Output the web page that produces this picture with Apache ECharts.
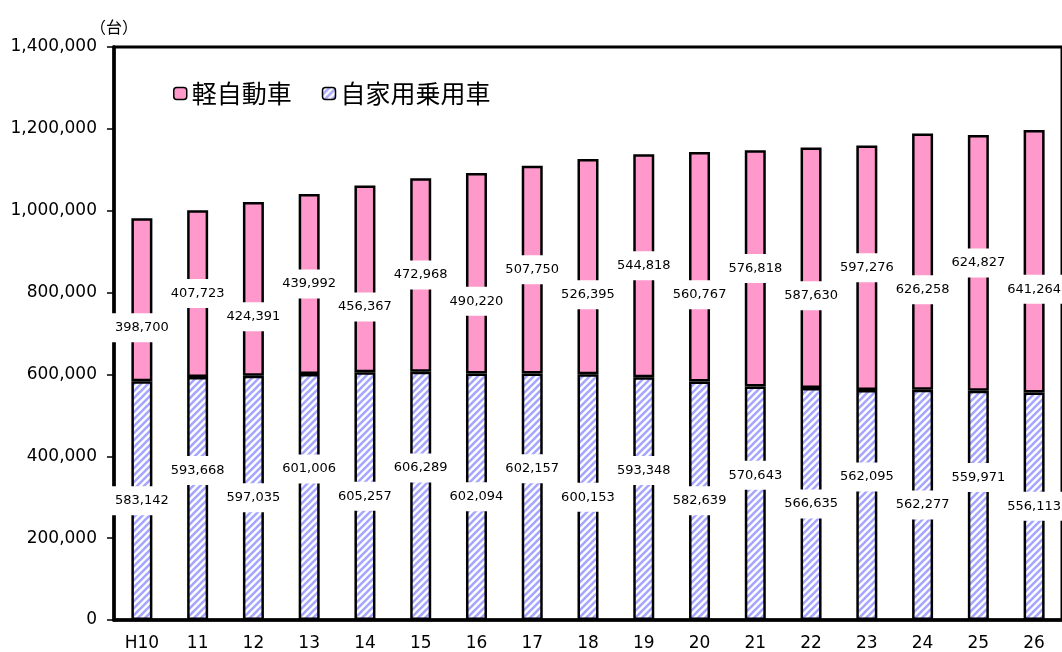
<!DOCTYPE html>
<html>
<head>
<meta charset="utf-8">
<script src="https://cdn.jsdelivr.net/npm/echarts@6/dist/echarts.min.js"></script>
<style>
html,body{margin:0;padding:0;background:#fff;}
#c{width:1062px;height:652px;}
</style>
</head>
<body>
<div id="c"></div>
<script>
var categories = ['H10','11','12','13','14','15','16','17','18','19','20','21','22','23','24','25','26'];
var keiValues = [398700,407723,424391,439992,456367,472968,490220,507750,526395,544818,560767,576818,587630,597276,626258,624827,641264];
var jikayoValues = [583142,593668,597035,601006,605257,606289,602094,602157,600153,593348,582639,570643,566635,562095,562277,559971,556113];
var seriesNames = ['軽自動車','自家用乗用車'];
var yTicks = [0,200000,400000,600000,800000,1000000,1200000,1400000];

function fmt(v){ return String(v).replace(/\B(?=(\d{3})+(?!\d))/g, ','); }

// hatch pattern
var T = 7;
var tile = document.createElement('canvas');
tile.width = T; tile.height = T;
var g = tile.getContext('2d');
g.fillStyle = '#ffffff';
g.fillRect(0,0,T,T);
g.strokeStyle = '#a6a6ff';
g.lineWidth = 2.6;
g.beginPath();
for (var k = -T; k <= T; k += T) {
  g.moveTo(k - 1, T + 1); g.lineTo(k + T + 1, -1);
}
g.stroke();
var hatch = {image: tile, repeat: 'repeat'};

var labelBase = {
  show: true,
  position: 'inside',
  color: '#000',
  fontSize: 13,
  fontFamily: 'DejaVu Sans, sans-serif',
  backgroundColor: '#fff',
  padding: [8, 7],
  formatter: function(p){ return fmt(p.value); }
};

var jikayoData = jikayoValues.map(function(v,i){
  return {value: v, label: {offset: [0, i % 2 === 1 ? -28 : 0]}};
});
var keiData = keiValues.map(function(v,i){
  return {value: v, label: {offset: [0, i % 2 === 0 ? 28 : 0]}};
});

var chart = echarts.init(document.getElementById('c'), null, {renderer: 'canvas'});
chart.setOption({
  animation: false,
  backgroundColor: '#fff',
  textStyle: {fontFamily: 'DejaVu Sans, sans-serif'},
  legend: {
    left: 168, top: 76,
    itemWidth: 13, itemHeight: 12,
    itemGap: 30,
    data: seriesNames,
    textStyle: {fontSize: 25, color: '#000', fontFamily: 'Noto Sans CJK JP'},
    itemStyle: {borderColor: '#000', borderWidth: 1.5}
  },
  grid: {
    left: 114, top: 47, width: 959, bottom: 30,
    show: true, borderColor: '#000', borderWidth: 3, backgroundColor: 'transparent',
    containLabel: false
  },
  xAxis: {
    type: 'category',
    data: categories,
    axisLine: {lineStyle: {color: '#000', width: 3.5}},
    axisTick: {show: false},
    axisLabel: {color: '#000', fontSize: 17, margin: 15, fontFamily: 'DejaVu Sans, sans-serif'}
  },
  yAxis: {
    type: 'value',
    min: yTicks[0], max: yTicks[yTicks.length-1], interval: yTicks[1]-yTicks[0],
    name: '（台）',
    nameLocation: 'end',
    nameGap: 12,
    nameTextStyle: {color: '#000', fontSize: 16, fontFamily: 'Noto Sans CJK JP', align: 'center'},
    axisLine: {show: true, lineStyle: {color: '#000', width: 3.5}},
    axisTick: {show: true, length: 7, lineStyle: {color: '#000', width: 1.5}},
    splitLine: {show: false},
    axisLabel: {color: '#000', fontSize: 17, margin: 17, fontFamily: 'DejaVu Sans, sans-serif', formatter: function(v){ return fmt(v); }}
  },
  series: [
    {
      name: seriesNames[1],
      type: 'bar',
      stack: 'total',
      barWidth: 21,
      data: jikayoData,
      itemStyle: {color: hatch, borderColor: '#000', borderWidth: 2.5},
      label: labelBase,
      z: 2
    },
    {
      name: seriesNames[0],
      type: 'bar',
      stack: 'total',
      barWidth: 21,
      data: keiData,
      itemStyle: {color: '#ff99cc', borderColor: '#000', borderWidth: 2.5},
      label: labelBase,
      z: 2
    }
  ]
});
</script>
</body>
</html>
